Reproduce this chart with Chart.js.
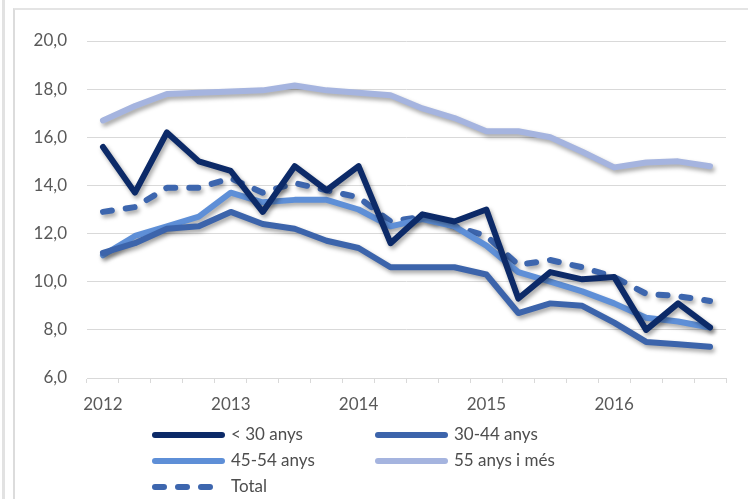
<!DOCTYPE html>
<html>
<head>
<meta charset="utf-8">
<script src="https://cdn.jsdelivr.net/npm/chart.js@4.4.0/dist/chart.umd.min.js"></script>
<style>
  html, body { margin: 0; padding: 0; background: #fff; }
  #wrap { position: relative; width: 748px; height: 499px; overflow: hidden; }
  #frame { position: absolute; left: 13px; top: 8px; right: -2px; bottom: -2px;
           border-left: 2px solid #dcdcdc; border-top: 2px solid #e4e4e4; }
  #edge { position: absolute; left: 2px; top: 0; width: 3px; height: 499px; background: #e2e2e2; }
  canvas { position: absolute; left: 0; top: 0; }
</style>
</head>
<body>
<div id="wrap">
  <div id="edge"></div>
  <div id="frame"></div>
  <canvas id="myChart" width="748" height="499"></canvas>
</div>
<script>
// Categories: one point per quarter, 2012 to 2016
const years = ['2012', '2013', '2014', '2015', '2016'];
const quarters = ['T1', 'T2', 'T3', 'T4'];

// Series values
const menys30 = [15.6, 13.7, 16.2, 15.0, 14.6, 12.9, 14.8, 13.8, 14.8, 11.6, 12.8, 12.5, 13.0, 9.3, 10.4, 10.1, 10.2, 8.0, 9.1, 8.1];
const de30a44 = [11.2, 11.6, 12.2, 12.3, 12.9, 12.4, 12.2, 11.7, 11.4, 10.6, 10.6, 10.6, 10.3, 8.7, 9.1, 9.0, 8.3, 7.5, 7.4, 7.3];
const de45a54 = [11.1, 11.9, 12.3, 12.7, 13.7, 13.3, 13.4, 13.4, 13.0, 12.3, 12.6, 12.3, 11.5, 10.4, 10.0, 9.6, 9.1, 8.5, 8.35, 8.1];
const mes55 = [16.7, 17.3, 17.8, 17.85, 17.9, 17.95, 18.15, 17.95, 17.85, 17.75, 17.2, 16.8, 16.25, 16.25, 16.0, 15.4, 14.75, 14.95, 15.0, 14.8];
const total = [12.9, 13.1, 13.9, 13.9, 14.3, 13.7, 14.1, 13.8, 13.5, 12.5, 12.7, 12.3, 11.9, 10.7, 10.9, 10.6, 10.2, 9.5, 9.4, 9.2];

// Y axis ticks
const yTicks = [6, 8, 10, 12, 14, 16, 18, 20];

// Build quarter labels
const labels = [];
years.forEach(function (y) {
  quarters.forEach(function (q) {
    labels.push(y + ' ' + q);
  });
});

const textColor = '#595959';
const gridColor = '#d9d9d9';
const fontFamily = 'Lato, "Open Sans", sans-serif';

// Soft drop shadow under the lines
const shadowPlugin = {
  id: 'shadow',
  beforeDatasetsDraw: function (chart) {
    const ctx = chart.ctx;
    ctx.save();
    ctx.shadowColor = 'rgba(0, 0, 0, 0.35)';
    ctx.shadowBlur = 4;
    ctx.shadowOffsetX = 2;
    ctx.shadowOffsetY = 3;
  },
  afterDatasetsDraw: function (chart) {
    chart.ctx.restore();
  }
};

// Legend in two columns under the chart
const legendPlugin = {
  id: 'twoColLegend',
  afterDraw: function (chart) {
    const ctx = chart.ctx;
    const cols = [152, 375];
    const rows = [435, 461, 487];
    ctx.save();
    chart.data.datasets.forEach(function (ds, i) {
      const x = cols[i % 2];
      const y = rows[Math.floor(i / 2)];
      ctx.beginPath();
      ctx.lineWidth = 6;
      ctx.lineCap = 'round';
      ctx.strokeStyle = ds.borderColor;
      ctx.setLineDash(ds.borderDash || []);
      ctx.moveTo(x + 3, y);
      ctx.lineTo(x + 70, y);
      ctx.stroke();
      ctx.setLineDash([]);
      ctx.fillStyle = '#4d4d4d';
      ctx.font = '17px ' + fontFamily;
      ctx.textBaseline = 'middle';
      ctx.fillText(ds.label, x + 79, y);
    });
    ctx.restore();
  }
};

const ctx = document.getElementById('myChart').getContext('2d');

const myChart = new Chart(ctx, {
  type: 'line',
  data: {
    labels: labels,
    datasets: [
      {
        label: '< 30 anys',
        data: menys30,
        borderColor: '#0c2a68',
      },
      {
        label: '30-44 anys',
        data: de30a44,
        borderColor: '#3c64ab',
      },
      {
        label: '45-54 anys',
        data: de45a54,
        borderColor: '#5e8fd7',
      },
      {
        label: '55 anys i més',
        data: mes55,
        borderColor: '#a5b4df',
      },
      {
        label: 'Total',
        data: total,
        borderColor: '#3d66ae',
        borderDash: [9, 14],
      },
    ],
  },
  options: {
    responsive: false,
    animation: false,
    datasets: {
      line: {
        borderWidth: 6,
        pointRadius: 0,
        tension: 0,
        borderJoinStyle: 'round',
        borderCapStyle: 'round',
        fill: false,
        clip: false,
      },
    },
    layout: {
      padding: { left: 0, top: 41, right: 22, bottom: 81 },
    },
    plugins: {
      legend: { display: false },
      tooltip: { enabled: false },
    },
    scales: {
      x: {
        offset: true,
        grid: {
          offset: true,
          drawOnChartArea: false,
          drawTicks: true,
          tickLength: 5,
          color: gridColor,
        },
        border: { color: gridColor, width: 1 },
        ticks: {
          autoSkip: false,
          maxRotation: 0,
          color: textColor,
          font: { size: 17, family: fontFamily },
          padding: 11,
          callback: function (value, index) {
            return index % 4 === 0 ? years[index / 4] : '';
          },
        },
        afterFit: function (scale) {
          scale.height = 40;
        },
      },
      y: {
        min: yTicks[0],
        max: yTicks[yTicks.length - 1],
        afterBuildTicks: function (scale) {
          scale.ticks = yTicks.map(function (v) { return { value: v }; });
        },
        grid: { color: gridColor, drawTicks: false },
        border: { display: false },
        ticks: {
          color: textColor,
          font: { size: 17, family: fontFamily },
          padding: 20,
          callback: function (value) {
            return value.toFixed(1).replace('.', ',');
          },
        },
        afterFit: function (scale) {
          scale.width = 87;
        },
      },
    },
  },
  plugins: [shadowPlugin, legendPlugin],
});
</script>
</body>
</html>
